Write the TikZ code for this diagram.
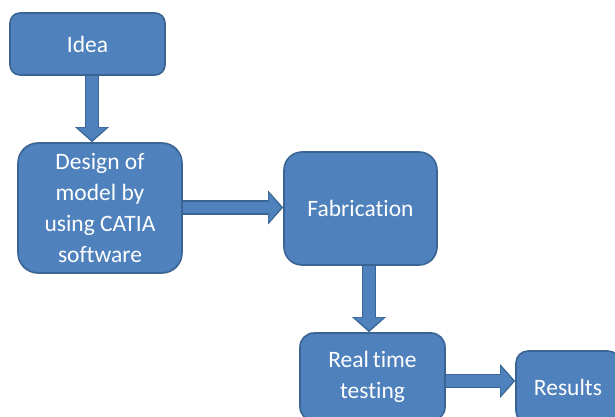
\documentclass[tikz,border=0pt]{standalone}
\usepackage{fontspec}
\setmainfont{Carlito}[Ligatures=CommonOff]
\usetikzlibrary{arrows.meta,positioning}
\definecolor{boxblue}{HTML}{4F81BD}
\definecolor{edgeblue}{HTML}{3A6494}
\tikzset{
  stage/.style={draw=edgeblue, line width=1.6pt, fill=boxblue, text=white,
    align=center, inner sep=0pt, font=\fontsize{23.5}{31}\selectfont},
  flowout/.style={line width=14.5pt, draw=edgeblue, -{Triangle[width=33pt,length=15pt]}},
  flowin/.style={line width=11.5pt, draw=boxblue, shorten >=2pt, -{Triangle[width=28.5pt,length=12.5pt]}}
}
\newcommand{\flowarrow}[2]{%
  \draw[flowout] #1 -- #2;
  \draw[flowin] #1 -- #2;}

\begin{document}
\begin{tikzpicture}[x=1pt,y=-1pt]
\useasboundingbox (0,0) rectangle (615,417);
% boxes
\node[stage, rounded corners=10pt, minimum width=155pt, minimum height=62pt] (idea) at (87.5,44) {Idea};
\node[stage, rounded corners=20pt, minimum width=164pt, minimum height=130pt] (design) at (100,208) {Design of\\model by\\using CATIA\\software};
\node[stage, rounded corners=18pt, minimum width=153pt, minimum height=113pt] (fab) at (360.5,208.5) {Fabrication};
\node[stage, rounded corners=14pt, minimum width=145pt, minimum height=88pt] (rtt) at (372.5,377) {Real\,time\\testing};
\node[stage, rounded corners=12pt, minimum width=104pt, minimum height=72pt] (res) at (568,387) {Results};
% arrows
\flowarrow{([xshift=4.5pt]idea.south)}{([xshift=-8pt]design.north)}
\flowarrow{([yshift=0.5pt]design.east)}{([yshift=1pt]fab.west)}
\flowarrow{([xshift=8.5pt]fab.south)}{([xshift=-3.5pt]rtt.north)}
\flowarrow{([yshift=-4pt]rtt.east)}{([yshift=6pt]res.west)}
\end{tikzpicture}
\end{document}
